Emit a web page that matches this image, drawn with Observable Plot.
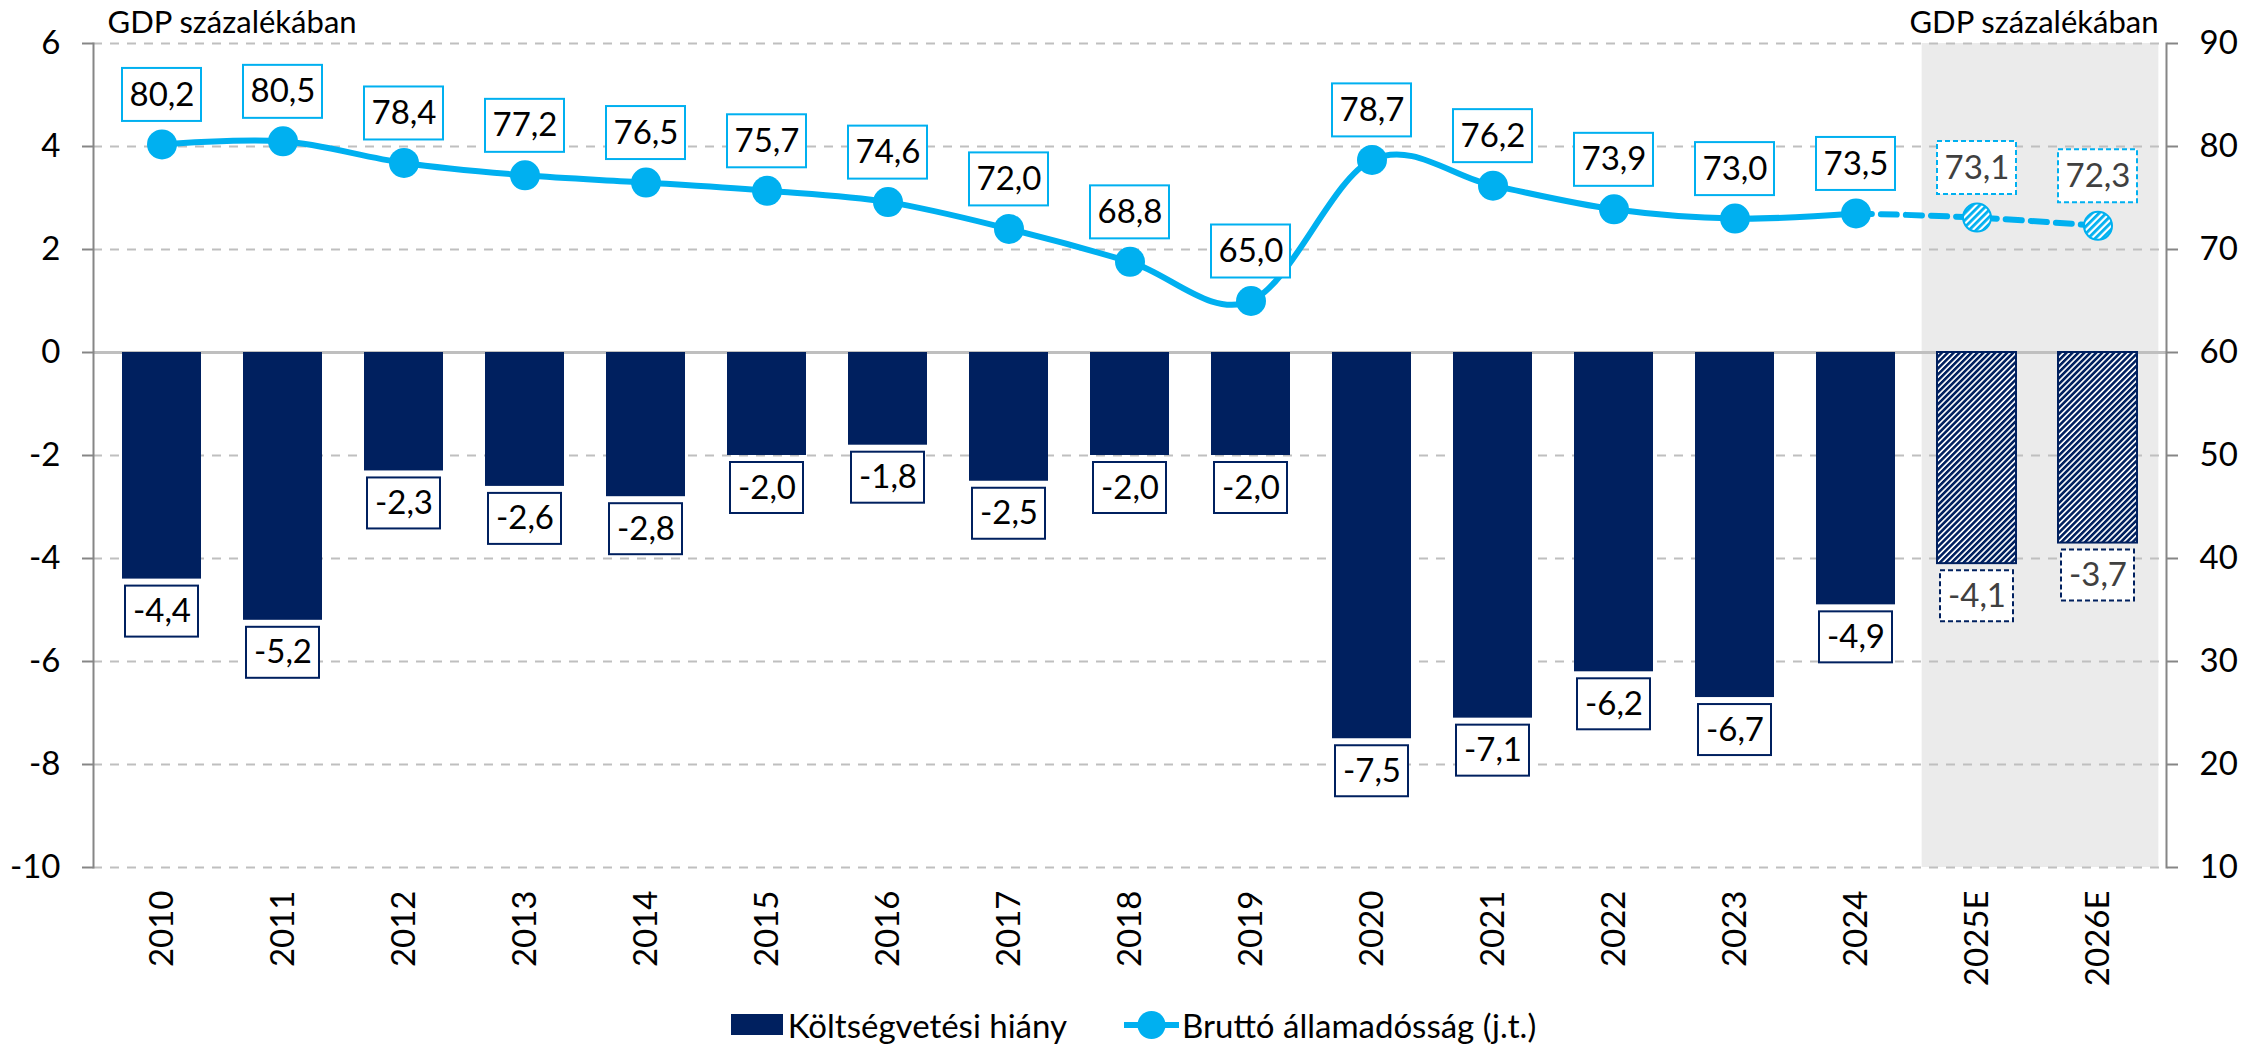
<!DOCTYPE html>
<html>
<head>
<meta charset="utf-8">
<script src="https://cdn.jsdelivr.net/npm/d3@7"></script>
<script src="https://cdn.jsdelivr.net/npm/@observablehq/plot@0.6"></script>
<style>
  html, body { margin: 0; padding: 0; background: #fff; }
  body { font-family: Lato, "Open Sans", sans-serif; }
  #legend { height: 45px; display: flex; justify-content: center; align-items: center; font-size: 33px; color: #000; padding-top: 2px; }
  .item { display: flex; align-items: center; }
  .sw { width: 52px; height: 21px; background: #00205f; margin-right: 5px; }
  .gap { width: 57px; }
</style>
</head>
<body>
<div id="chart"></div>
<div id="legend"></div>
<script>
// ---- data ----
const years = ["2010","2011","2012","2013","2014","2015","2016","2017","2018","2019","2020","2021","2022","2023","2024","2025E","2026E"];
const deficit = [-4.4,-5.2,-2.3,-2.6,-2.8,-2.0,-1.8,-2.5,-2.0,-2.0,-7.5,-7.1,-6.2,-6.7,-4.9,-4.1,-3.7];
const debt = [80.2,80.5,78.4,77.2,76.5,75.7,74.6,72.0,68.8,65.0,78.7,76.2,73.9,73.0,73.5,73.1,72.3];
const leftTicks = [-10,-8,-6,-4,-2,0,2,4,6];
const rightTicks = [10,20,30,40,50,60,70,80,90];
const leftTitle = "GDP százalékában";
const rightTitle = "GDP százalékában";
const legendBar = "Költségvetési hiány";
const legendLine = "Bruttó államadósság (j.t.)";

// ---- style ----
const navy = "#00205f";
const cyan = "#00b0f0";
const W = 2267, H = 1000;
const mL = 93, mR = 101, mT = 43, mB = 133;
const padIn = 0.35;
const halfGap = ((W - mL - mR) / years.length) * padIn / 2;
const FS = 33;   // numbers
const FT = 31;   // axis titles

// right axis (debt) -> left axis units
const toLeft = v => (v - 60) / 5;
const toRight = v => String(Math.round(60 + 5 * v));
const fmt = v => v.toFixed(1).replace(".", ",");

const rows = years.map((year, i) => ({year, deficit: deficit[i], debt: debt[i], est: year.endsWith("E")}));
const actual = rows.filter(d => !d.est);
const est = rows.filter(d => d.est);
const solidLine = rows.slice(0, years.indexOf("2024") + 1);
const dashLine = rows.slice(years.indexOf("2024"));

const chart = Plot.plot({
  width: W, height: H,
  marginLeft: mL, marginRight: mR, marginTop: mT, marginBottom: mB,
  style: {fontFamily: "Lato, 'Open Sans', sans-serif", fontSize: FS + "px", color: "#000", background: "#fff"},
  x: {domain: years, paddingInner: padIn, paddingOuter: padIn / 2},
  y: {domain: [-10, 6]},
  marks: [
    // forecast shading
    Plot.barY(est.slice(0, 1), {x: "year", y1: -10, y2: 6, fill: "#ebebeb", insetLeft: -halfGap + 6, insetRight: -halfGap - 1}),
    Plot.barY(est.slice(1), {x: "year", y1: -10, y2: 6, fill: "#ebebeb", insetLeft: -halfGap - 1, insetRight: -halfGap}),
    // grid
    Plot.gridY(leftTicks, {stroke: "#bfbfbf", strokeOpacity: 1, strokeWidth: 2, strokeDasharray: "9,8"}),
    Plot.ruleY([0], {stroke: "#bfbfbf", strokeWidth: 3}),
    // bars
    Plot.barY(actual, {x: "year", y1: 0, y2: "deficit", fill: navy}),
    Plot.barY(est, {x: "year", y1: 0, y2: "deficit", fill: "url(#hatchNavy)", stroke: navy, strokeWidth: 2}),
    // axes
    Plot.frame({anchor: "left", stroke: "#868686", strokeWidth: 2}),
    Plot.frame({anchor: "right", stroke: "#868686", strokeWidth: 2}),
    Plot.axisY(leftTicks, {anchor: "left", tickSize: 11, tickPadding: 22, tickFormat: d => String(d), stroke: "#868686", strokeWidth: 2, fill: "#000", fontSize: FS, label: null}),
    Plot.axisY(rightTicks.map(toLeft), {anchor: "right", tickSize: 11, tickPadding: 22, tickFormat: toRight, stroke: "#868686", strokeWidth: 2, fill: "#000", fontSize: FS, label: null}),
    Plot.axisX({anchor: "bottom", tickRotate: -90, tickSize: 0, tickPadding: 23, fill: "#000", fontSize: FS, label: null}),
    // deficit labels
    Plot.barY(actual, {x: "year", y1: "deficit", y2: "deficit", insetTop: 7, insetBottom: -58, insetLeft: 3, insetRight: 3, fill: "#fff", stroke: navy, strokeWidth: 2}),
    Plot.barY(est, {x: "year", y1: "deficit", y2: "deficit", insetTop: 7, insetBottom: -58, insetLeft: 3, insetRight: 3, fill: "#fff", stroke: navy, strokeWidth: 2, strokeDasharray: "5,3"}),
    Plot.text(actual, {x: "year", y: "deficit", text: d => fmt(d.deficit), dy: 32.5, fill: "#000", fontSize: FS}),
    Plot.text(est, {x: "year", y: "deficit", text: d => fmt(d.deficit), dy: 32.5, fill: "#404040", fontSize: FS}),
    // debt line
    Plot.line(solidLine, {x: "year", y: d => toLeft(d.debt), curve: "cardinal", stroke: cyan, strokeWidth: 6}),
    Plot.line(dashLine, {x: "year", y: d => toLeft(d.debt), curve: "cardinal", stroke: cyan, strokeWidth: 6, strokeDasharray: "16,9"}),
    Plot.dot(actual, {x: "year", y: d => toLeft(d.debt), r: 15, fill: cyan, stroke: "none"}),
    Plot.dot(est, {x: "year", y: d => toLeft(d.debt), r: 14, fill: "url(#hatchCyan)", stroke: cyan, strokeWidth: 2}),
    // debt labels
    Plot.barY(actual, {x: "year", y1: d => toLeft(d.debt), y2: d => toLeft(d.debt), insetTop: -76, insetBottom: 23, fill: "#fff", stroke: cyan, strokeWidth: 2}),
    Plot.barY(est, {x: "year", y1: d => toLeft(d.debt), y2: d => toLeft(d.debt), insetTop: -76, insetBottom: 23, fill: "#fff", stroke: cyan, strokeWidth: 2, strokeDasharray: "5,3"}),
    Plot.text(actual, {x: "year", y: d => toLeft(d.debt), text: d => fmt(d.debt), dy: -49.5, fill: "#000", fontSize: FS}),
    Plot.text(est, {x: "year", y: d => toLeft(d.debt), text: d => fmt(d.debt), dy: -49.5, fill: "#404040", fontSize: FS}),
    // axis titles
    Plot.text([leftTitle], {frameAnchor: "top-left", text: d => d, textAnchor: "start", lineAnchor: "bottom", dx: 14, dy: -11, fill: "#000", fontSize: FT}),
    Plot.text([rightTitle], {frameAnchor: "top-right", text: d => d, textAnchor: "end", lineAnchor: "bottom", dx: -8, dy: -11, fill: "#000", fontSize: FT})
  ]
});

// hatch patterns
const ns = "http://www.w3.org/2000/svg";
const defs = document.createElementNS(ns, "defs");
defs.innerHTML = `
  <pattern id="hatchNavy" patternUnits="userSpaceOnUse" width="4.2" height="4.2" patternTransform="rotate(45)">
    <rect width="4.2" height="4.2" fill="#ffffff"/><rect width="2.6" height="4.2" fill="${navy}"/>
  </pattern>
  <pattern id="hatchCyan" patternUnits="userSpaceOnUse" width="5" height="5" patternTransform="rotate(45)">
    <rect width="5" height="5" fill="#ffffff"/><rect width="2.8" height="5" fill="${cyan}"/>
  </pattern>`;
chart.insertBefore(defs, chart.firstChild);
document.getElementById("chart").appendChild(chart);

// legend
const legend = document.getElementById("legend");
legend.innerHTML = `
  <div class="item"><div class="sw"></div><span>${legendBar}</span></div>
  <div class="gap"></div>
  <div class="item"><svg width="55" height="30" style="margin-right:3px"><line x1="0" y1="15" x2="55" y2="15" stroke="${cyan}" stroke-width="6"/><circle cx="27.5" cy="15" r="14" fill="${cyan}"/></svg><span>${legendLine}</span></div>`;
</script>
</body>
</html>
